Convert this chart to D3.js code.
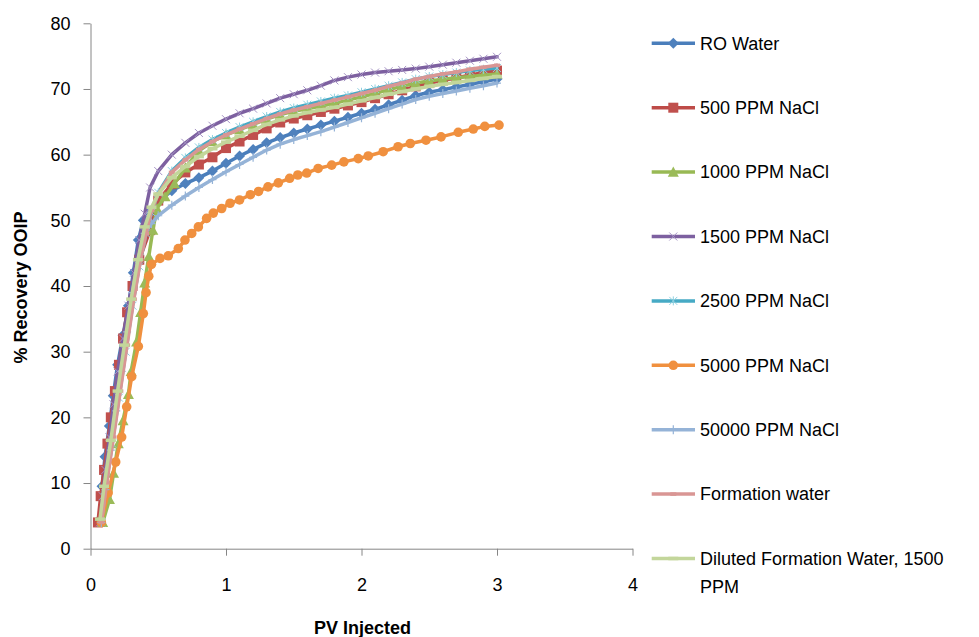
<!DOCTYPE html>
<html>
<head>
<meta charset="utf-8">
<script src="https://cdn.jsdelivr.net/npm/d3@7"></script>
<style>
  html, body { margin: 0; padding: 0; background: #fff; }
  svg { display: block; font-family: "Liberation Sans", Arial, sans-serif; }
</style>
</head>
<body>
<svg id="chart" width="979" height="637"></svg>
<script>
// ---------- Data (PV injected, % recovery OOIP) ----------
const seriesNames = ["RO Water", "500 PPM NaCl", "1000 PPM NaCl", "1500 PPM NaCl", "2500 PPM NaCl",
  "5000 PPM NaCl", "50000 PPM NaCl", "Formation water", "Diluted Formation Water, 1500 PPM"];

const xTicks = [0, 1, 2, 3, 4];
const yTicks = [0, 10, 20, 30, 40, 50, 60, 70, 80];

const roWater = [[0.07,4.5],[0.085,9.5],[0.107,14],[0.139,18.7],[0.168,23.3],[0.2,28],[0.24,32.5],[0.28,37],[0.316,42],[0.353,47],[0.39,50],[0.45,51.5],
  [0.5,52.8],[0.6,54.5],[0.7,55.6],[0.8,56.5],[0.9,57.5],[1.0,58.7],[1.1,59.8],[1.2,60.8],[1.3,61.8],[1.4,62.6],[1.5,63.3],[1.6,63.9],[1.7,64.5],[1.8,65.1],[1.9,65.7],
  [2.0,66.3],[2.1,66.9],[2.2,67.6],[2.3,68.3],[2.4,69.0],[2.5,69.5],[2.6,69.9],[2.7,70.3],[2.8,70.7],[2.9,71.1],[3.0,71.5]];

const nacl500 = [[0.055,4],[0.075,8],[0.1,12],[0.125,16],[0.15,20],[0.18,24],[0.21,28],[0.24,32],[0.27,36],[0.31,40],[0.36,44],[0.44,48.5],
  [0.5,53],[0.6,55.5],[0.7,57.3],[0.8,58.5],[0.9,59.6],[1.0,61.0],[1.1,62.0],[1.2,63.0],[1.3,64.0],[1.4,64.9],[1.5,65.5],[1.6,66.0],[1.7,66.5],[1.8,67.0],[1.9,67.5],
  [2.0,68.0],[2.1,68.6],[2.2,69.2],[2.3,69.8],[2.4,70.4],[2.5,70.9],[2.6,71.3],[2.7,71.7],[2.8,72.1],[2.9,72.5],[3.0,72.8]];

const nacl1000 = [[0.09,4],[0.14,7.5],[0.17,11.5],[0.205,16],[0.24,19.5],[0.28,23.5],[0.30,27],[0.34,31.5],[0.37,36],[0.40,40.5],[0.43,44.5],[0.46,48.5],[0.49,51.8],
  [0.55,53.6],[0.62,55.6],[0.7,58.0],[0.8,60.6],[0.9,62.0],[1.0,63.0],[1.1,63.8],[1.2,64.6],[1.3,65.4],[1.4,66.1],[1.5,66.6],[1.6,67.0],[1.7,67.4],[1.8,67.8],[1.9,68.3],
  [2.0,68.8],[2.1,69.3],[2.2,69.9],[2.3,70.4],[2.4,70.9],[2.5,71.2],[2.6,71.5],[2.7,71.7],[2.8,71.9],[2.9,72.1],[3.0,72.3]];

const nacl1500 = [[0.07,4],[0.09,8],[0.11,12],[0.14,17],[0.17,22],[0.2,27],[0.24,32],[0.28,37],[0.32,42],[0.36,47],[0.40,51],[0.44,55],
  [0.5,57.5],[0.6,60],[0.7,61.8],[0.8,63.3],[0.9,64.4],[1.0,65.4],[1.1,66.3],[1.2,67.0],[1.3,67.8],[1.4,68.6],[1.5,69.2],[1.6,69.8],[1.7,70.5],[1.8,71.3],[1.9,71.8],
  [2.0,72.2],[2.1,72.5],[2.2,72.7],[2.3,72.9],[2.4,73.1],[2.5,73.4],[2.6,73.7],[2.7,74.0],[2.8,74.3],[2.9,74.6],[3.0,74.9]];

const nacl2500 = [[0.08,4],[0.11,9],[0.16,16],[0.21,23],[0.26,30],[0.31,37],[0.36,43],[0.41,48],[0.45,51.2],
  [0.5,54.2],[0.6,57.5],[0.7,59.5],[0.8,61.1],[0.9,62.3],[1.0,63.3],[1.1,64.2],[1.2,65.0],[1.3,65.8],[1.4,66.5],[1.5,67.1],[1.6,67.6],[1.7,68.1],[1.8,68.6],[1.9,69.0],
  [2.0,69.5],[2.1,70.0],[2.2,70.5],[2.3,71.0],[2.4,71.5],[2.5,71.9],[2.6,72.2],[2.7,72.5],[2.8,72.8],[2.9,73.0],[3.0,73.2]];

const nacl5000 = [[0.08,4],[0.13,8.5],[0.186,13.2],[0.23,17],[0.267,21.6],[0.304,26.2],[0.353,30.8],[0.39,35.8],[0.41,39],[0.43,41.5],[0.45,43.3],
  [0.513,44.2],[0.574,44.6],[0.648,45.7],[0.697,47.0],[0.747,48.0],[0.796,49.0],[0.857,50.3],[0.906,51.1],[0.968,51.8],[1.03,52.6],[1.10,53.1],[1.18,53.9],
  [1.24,54.4],[1.31,55.1],[1.386,55.7],[1.47,56.4],[1.53,56.9],[1.596,57.2],[1.68,57.9],[1.78,58.4],[1.87,58.9],[1.976,59.4],[2.05,59.8],[2.16,60.45],
  [2.27,61.2],[2.36,61.7],[2.476,62.2],[2.587,62.7],[2.714,63.4],[2.825,63.9],[2.91,64.3],[3.015,64.5]];

const nacl50000 = [[0.08,4],[0.11,9],[0.15,15],[0.19,21],[0.23,27],[0.27,33],[0.31,39],[0.35,44],[0.4,48],[0.45,49.5],
  [0.5,50.7],[0.6,52.3],[0.7,53.7],[0.8,55.0],[0.9,56.2],[1.0,57.4],[1.1,58.5],[1.2,59.6],[1.3,60.7],[1.4,61.6],[1.5,62.3],[1.6,62.9],[1.7,63.5],[1.8,64.2],[1.9,64.9],
  [2.0,65.6],[2.1,66.3],[2.2,67.0],[2.3,67.7],[2.4,68.4],[2.5,68.9],[2.6,69.3],[2.7,69.7],[2.8,70.1],[2.9,70.5],[3.0,70.9]];

const formationWater = [[0.08,4],[0.12,10],[0.17,17],[0.22,24],[0.27,31],[0.32,38],[0.37,44],[0.41,48],[0.45,51.5],
  [0.5,54],[0.6,57.3],[0.7,59.2],[0.8,60.8],[0.9,62.0],[1.0,63.0],[1.1,63.9],[1.2,64.7],[1.3,65.5],[1.4,66.2],[1.5,66.8],[1.6,67.3],[1.7,67.8],[1.8,68.3],[1.9,68.8],
  [2.0,69.3],[2.1,69.8],[2.2,70.4],[2.3,70.9],[2.4,71.5],[2.5,71.9],[2.6,72.3],[2.7,72.6],[2.8,73.0],[2.9,73.3],[3.0,73.6]];

const dilutedFormation = [[0.07,4.5],[0.1,9.5],[0.15,16.5],[0.2,24],[0.25,31],[0.3,38],[0.35,44],[0.4,49],[0.45,52],
  [0.5,54],[0.6,56.5],[0.7,58.2],[0.8,59.7],[0.9,60.9],[1.0,61.9],[1.1,62.8],[1.2,63.7],[1.3,64.6],[1.4,65.3],[1.5,65.9],[1.6,66.4],[1.7,66.8],[1.8,67.2],[1.9,67.7],
  [2.0,68.2],[2.1,68.7],[2.2,69.2],[2.3,69.6],[2.4,70.0],[2.5,70.4],[2.6,70.7],[2.7,71.0],[2.8,71.3],[2.9,71.6],[3.0,71.9]];

const seriesData = [roWater, nacl500, nacl1000, nacl1500, nacl2500, nacl5000, nacl50000, formationWater, dilutedFormation];
const lineColors = ["#4A7EBB", "#BE4B48", "#98B954", "#7D60A0", "#46AAC5", "#F0903F", "#95B3D7", "#D99694", "#C3D69B"];
const markerColors = ["#4F81BD", "#C0504D", "#9BBB59", "#A594C4", "#8ED0E0", "#F0903F", "#95B3D7", "#D99694", "#C3D69B"];
const markerTypes = ["diamond", "square", "triangle", "x", "star", "circle", "plus", "dot", "dash"];

// ---------- Layout ----------
const svg = d3.select("#chart");
const x = d3.scaleLinear().domain([0, 4]).range([90.5, 632.5]);
const y = d3.scaleLinear().domain([0, 80]).range([548.7, 23.3]);
const axisColor = "#868686";

// Axes
const yAxis = svg.append("g").attr("transform", `translate(${x(0)},0)`)
  .call(d3.axisLeft(y).tickValues(yTicks).tickFormat(d3.format("d")).tickSize(7).tickPadding(13).tickSizeOuter(0));
const xAxis = svg.append("g").attr("transform", `translate(0,${y(0)})`)
  .call(d3.axisBottom(x).tickValues(xTicks).tickFormat(d3.format("d")).tickSize(7).tickPadding(23).tickSizeOuter(0));
[yAxis, xAxis].forEach(g => {
  g.select(".domain").attr("stroke", axisColor).attr("stroke-width", 1);
  g.selectAll(".tick line").attr("stroke", axisColor).attr("stroke-width", 1);
  g.selectAll(".tick text").attr("fill", "#000").style("font-size", "18px")
    .style("font-family", '"Liberation Sans", Arial, sans-serif');
});

// Axis titles
svg.append("text").attr("transform", "translate(27,287.5) rotate(-90)")
  .attr("text-anchor", "middle").style("font-size", "18px").style("font-weight", "bold")
  .text("% Recovery OOIP");
svg.append("text").attr("x", 362.5).attr("y", 634)
  .attr("text-anchor", "middle").style("font-size", "18px").style("font-weight", "bold")
  .text("PV Injected");

// Marker drawing
function drawMarker(g, type, cx, cy, color) {
  switch (type) {
    case "diamond": {
      const s = 5.5;
      g.append("path").attr("d", `M${cx},${cy - s}L${cx + s},${cy}L${cx},${cy + s}L${cx - s},${cy}Z`).attr("fill", color);
      break;
    }
    case "square": {
      const s = 5;
      g.append("rect").attr("x", cx - s).attr("y", cy - s).attr("width", 2 * s).attr("height", 2 * s).attr("fill", color);
      break;
    }
    case "triangle": {
      const s = 5.5;
      g.append("path").attr("d", `M${cx},${cy - s}L${cx + s},${cy + s * 0.85}L${cx - s},${cy + s * 0.85}Z`).attr("fill", color);
      break;
    }
    case "x":
      g.append("path").attr("d", `M${cx - 4},${cy - 4}L${cx + 4},${cy + 4}M${cx - 4},${cy + 4}L${cx + 4},${cy - 4}`)
        .attr("stroke", color).attr("stroke-width", 1);
      break;
    case "star":
      g.append("path").attr("d", `M${cx - 4},${cy - 4}L${cx + 4},${cy + 4}M${cx - 4},${cy + 4}L${cx + 4},${cy - 4}M${cx},${cy - 4.5}L${cx},${cy + 4.5}`)
        .attr("stroke", color).attr("stroke-width", 1);
      break;
    case "circle":
      g.append("circle").attr("cx", cx).attr("cy", cy).attr("r", 4.8).attr("fill", color);
      break;
    case "plus":
      g.append("path").attr("d", `M${cx - 4},${cy}L${cx + 4},${cy}M${cx},${cy - 4.5}L${cx},${cy + 4.5}`)
        .attr("stroke", color).attr("stroke-width", 1.2);
      break;
    case "dot":
      g.append("rect").attr("x", cx - 3).attr("y", cy - 1.75).attr("width", 6).attr("height", 3.5).attr("fill", color);
      break;
    case "dash":
      g.append("rect").attr("x", cx - 5).attr("y", cy - 1.75).attr("width", 10).attr("height", 3.5).attr("fill", color);
      break;
  }
}

// Series
const line = d3.line().x(d => x(d[0])).y(d => y(d[1]));
const plot = svg.append("g");
seriesData.forEach((data, i) => {
  const g = plot.append("g");
  g.append("path").datum(data).attr("d", line)
    .attr("fill", "none").attr("stroke", lineColors[i]).attr("stroke-width", 3.5)
    .attr("stroke-linejoin", "round").attr("stroke-linecap", "round");
  data.forEach(d => drawMarker(g, markerTypes[i], x(d[0]), y(d[1]), markerColors[i]));
});

// Legend
const legend = svg.append("g");
seriesNames.forEach((name, i) => {
  const ly = 43.3 + i * 64.4;
  const g = legend.append("g");
  g.append("line").attr("x1", 651.7).attr("x2", 695).attr("y1", ly).attr("y2", ly)
    .attr("stroke", lineColors[i]).attr("stroke-width", 3.5);
  drawMarker(g, markerTypes[i], 673.3, ly, markerColors[i]);
  const t = g.append("text").attr("x", 700).attr("y", ly).attr("dy", "0.35em").style("font-size", "18px");
  if (name.startsWith("Diluted")) {
    t.text("Diluted Formation Water, 1500");
    g.append("text").attr("x", 700).attr("y", ly + 27.7).attr("dy", "0.35em").style("font-size", "18px").text("PPM");
  } else {
    t.text(name);
  }
});
</script>
</body>
</html>
